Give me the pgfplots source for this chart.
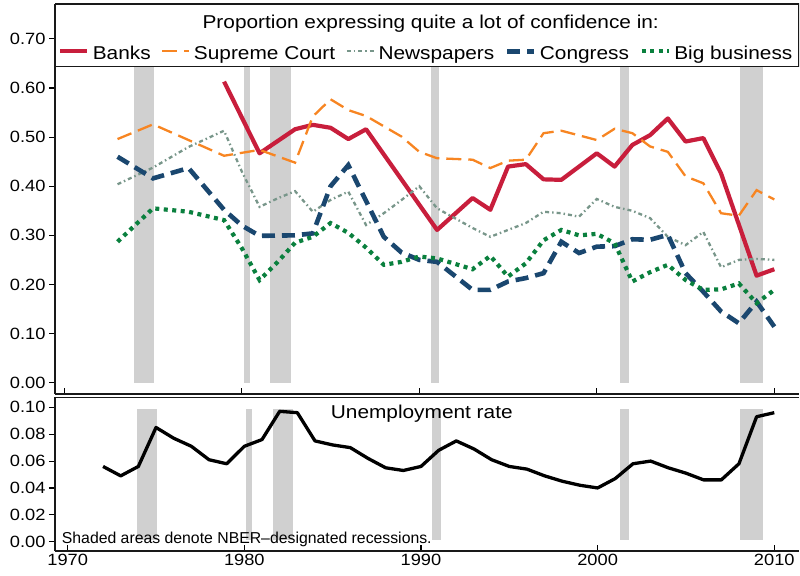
\documentclass[border=0pt]{standalone}
\usepackage{pgfplots}
\pgfplotsset{compat=1.18}
\usepackage{pgfplotstable}
\usepackage{fontspec}
\setmainfont{Liberation Sans}[FakeStretch=1.12]
\newfontfamily\notefont{Liberation Sans}
\definecolor{banks}{RGB}{200,30,60}
\definecolor{court}{RGB}{247,133,34}
\definecolor{news}{RGB}{120,150,138}
\definecolor{congress}{RGB}{26,71,111}
\definecolor{bigbiz}{RGB}{10,128,62}
\definecolor{recgray}{RGB}{208,208,208}
\newcommand{\tickfont}{\fontsize{16.3bp}{18bp}\selectfont}
\newcommand{\legfont}{\fontsize{18.6bp}{21bp}\selectfont}
\newcommand{\notesize}{\fontsize{15.8bp}{18bp}\selectfont}

\pgfplotstableread{
year val
1979 0.613
1981 0.467
1983 0.516
1984 0.525
1985 0.519
1986 0.496
1987 0.516
1991 0.311
1993 0.376
1994 0.352
1995 0.440
1996 0.445
1997 0.414
1998 0.413
2000 0.467
2001 0.440
2002 0.484
2003 0.504
2004 0.538
2005 0.491
2006 0.498
2007 0.426
2009 0.218
2010 0.231
}\banks

\pgfplotstableread{
year val
1973 0.496
1975 0.526
1977 0.494
1979 0.462
1980 0.468
1981 0.474
1983 0.448
1984 0.542
1985 0.577
1986 0.555
1987 0.543
1988 0.522
1989 0.501
1990 0.470
1991 0.457
1993 0.454
1994 0.437
1995 0.452
1996 0.454
1997 0.508
1998 0.513
2000 0.494
2001 0.517
2002 0.508
2003 0.481
2004 0.470
2005 0.420
2006 0.406
2007 0.345
2008 0.340
2009 0.392
2010 0.373
}\court

\pgfplotstableread{
year val
1973 0.404
1975 0.438
1977 0.480
1979 0.513
1980 0.430
1981 0.358
1982 0.375
1983 0.390
1984 0.348
1985 0.372
1986 0.389
1987 0.321
1988 0.345
1989 0.372
1990 0.400
1991 0.355
1993 0.315
1994 0.297
1995 0.311
1996 0.325
1997 0.348
1998 0.345
1999 0.338
2000 0.374
2001 0.358
2002 0.350
2003 0.335
2004 0.297
2005 0.280
2006 0.307
2007 0.235
2008 0.250
2009 0.252
2010 0.250
}\news

\pgfplotstableread{
year val
1973 0.460
1975 0.416
1977 0.437
1979 0.352
1980 0.320
1981 0.299
1983 0.300
1984 0.304
1985 0.400
1986 0.443
1987 0.370
1988 0.297
1989 0.265
1990 0.250
1991 0.246
1993 0.189
1994 0.189
1995 0.206
1996 0.213
1997 0.223
1998 0.287
1999 0.264
2000 0.277
2001 0.278
2002 0.292
2003 0.291
2004 0.301
2005 0.223
2006 0.185
2007 0.145
2008 0.121
2009 0.165
2010 0.114
}\congress

\pgfplotstableread{
year val
1973 0.287
1975 0.355
1977 0.348
1979 0.331
1980 0.274
1981 0.209
1982 0.245
1983 0.285
1984 0.297
1985 0.325
1986 0.305
1987 0.275
1988 0.240
1989 0.246
1990 0.257
1991 0.253
1993 0.231
1994 0.258
1995 0.216
1996 0.243
1997 0.290
1998 0.311
1999 0.300
2000 0.303
2001 0.284
2002 0.206
2003 0.225
2004 0.240
2005 0.209
2006 0.189
2007 0.190
2008 0.202
2009 0.162
2010 0.189
}\bigbiz

\pgfplotstableread{
year val
1972 0.056
1973 0.049
1974 0.056
1975 0.085
1976 0.077
1977 0.071
1978 0.061
1979 0.058
1980 0.071
1981 0.076
1982 0.097
1983 0.096
1984 0.075
1985 0.072
1986 0.070
1987 0.062
1988 0.055
1989 0.053
1990 0.056
1991 0.068
1992 0.075
1993 0.069
1994 0.061
1995 0.056
1996 0.054
1997 0.049
1998 0.045
1999 0.042
2000 0.040
2001 0.047
2002 0.058
2003 0.060
2004 0.055
2005 0.051
2006 0.046
2007 0.046
2008 0.058
2009 0.093
2010 0.096
}\unemp

\pgfplotsset{
  rec/.style={fill=recgray, draw=none, forget plot},
}

\begin{document}
\begin{tikzpicture}
\useasboundingbox (0,0) rectangle (800bp,576bp);

% ---------------- top panel ----------------
\begin{axis}[
  at={(55bp,182bp)}, anchor=south west,
  scale only axis, width=744bp, height=390bp,
  xmin=1969.476, xmax=2011.39, ymin=-0.023, ymax=0.771,
  axis x line*=bottom, axis y line*=left,
  axis line style={line width=1.2bp, black!90},
  xtick={1970,1980,1990,2000,2010}, xticklabels={},
  ytick={0,0.1,0.2,0.3,0.4,0.5,0.6,0.7},
  yticklabels={0.00,0.10,0.20,0.30,0.40,0.50,0.60,0.70},
  tick label style={font=\tickfont, black},
  xtick align=inside, ytick align=outside,
  major tick length=6bp,
  tick style={line width=1.1bp, black},
  legend columns=5,
  legend style={at={(rel axis cs:0.5,0.8397)}, anchor=south, yshift=4bp,
    draw=none, fill=none, font=\legfont, inner sep=0pt,
    nodes={inner xsep=3.5bp, inner ysep=1bp},
    /tikz/every even column/.append style={column sep=7bp}},
  legend cell align=left,
  legend image code/.code={\draw[#1] (0bp,2.5bp) -- (27bp,2.5bp);},
]
\addplot[rec] coordinates {(1973.94,0) (1973.94,0.643) (1975.08,0.643) (1975.08,0)} -- cycle;
\addplot[rec] coordinates {(1980.12,0) (1980.12,0.643) (1980.44,0.643) (1980.44,0)} -- cycle;
\addplot[rec] coordinates {(1981.60,0) (1981.60,0.643) (1982.77,0.643) (1982.77,0)} -- cycle;
\addplot[rec] coordinates {(1990.63,0) (1990.63,0.643) (1991.12,0.643) (1991.12,0)} -- cycle;
\addplot[rec] coordinates {(2001.29,0) (2001.29,0.643) (2001.80,0.643) (2001.80,0)} -- cycle;
\addplot[rec] coordinates {(2008.06,0) (2008.06,0.643) (2009.37,0.643) (2009.37,0)} -- cycle;

\addplot[banks, line width=4.2bp, line join=round] table[x=year,y=val]{\banks};
\addlegendentry{Banks}
\addplot[court, line width=2.3bp, dash pattern=on 15bp off 7bp] table[x=year,y=val]{\court};
\addlegendentry{Supreme Court}
\addplot[news, line width=2.3bp, dash pattern=on 4bp off 3bp on 1.5bp off 3bp] table[x=year,y=val]{\news};
\addlegendentry{Newspapers}
\addplot[congress, line width=4.6bp, dash pattern=on 13bp off 7bp] table[x=year,y=val]{\congress};
\addlegendentry{Congress}
\addplot[bigbiz, line width=4.2bp, dash pattern=on 4bp off 4.5bp] table[x=year,y=val]{\bigbiz};
\addlegendentry{Big business}

\draw[line width=1.2bp, black!90] (rel axis cs:0,1) rectangle (rel axis cs:1,0.8397);
\node[font=\legfont, anchor=base] at (rel axis cs:0.505,0.938) {Proportion expressing quite a lot of confidence in:};
\end{axis}

% ---------------- bottom panel ----------------
\begin{axis}[
  at={(55bp,25bp)}, anchor=south west,
  scale only axis, width=744bp, height=153.5bp,
  xmin=1969.281, xmax=2011.40, ymin=-0.0069, ymax=0.1073,
  axis x line*=bottom, axis y line*=left,
  axis line style={line width=1.2bp, black!90},
  xtick={1970,1980,1990,2000,2010},
  xticklabels={1970,1980,1990,2000,2010},
  ytick={0,0.02,0.04,0.06,0.08,0.1},
  yticklabels={0.00,0.02,0.04,0.06,0.08,0.10},
  tick label style={font=\tickfont, black},
  xtick align=inside, ytick align=outside,
  major tick length=6bp,
  tick style={line width=1.1bp, black},
]
\addplot[rec] coordinates {(1973.94,0.0015) (1973.94,0.0985) (1975.08,0.0985) (1975.08,0.0015)} -- cycle;
\addplot[rec] coordinates {(1980.12,0.0015) (1980.12,0.0985) (1980.44,0.0985) (1980.44,0.0015)} -- cycle;
\addplot[rec] coordinates {(1981.60,0.0015) (1981.60,0.0985) (1982.77,0.0985) (1982.77,0.0015)} -- cycle;
\addplot[rec] coordinates {(1990.63,0.0015) (1990.63,0.0985) (1991.12,0.0985) (1991.12,0.0015)} -- cycle;
\addplot[rec] coordinates {(2001.29,0.0015) (2001.29,0.0985) (2001.80,0.0985) (2001.80,0.0015)} -- cycle;
\addplot[rec] coordinates {(2008.06,0.0015) (2008.06,0.0985) (2009.37,0.0985) (2009.37,0.0015)} -- cycle;

\addplot[black, line width=3.3bp, line join=round] table[x=year,y=val]{\unemp};

\draw[line width=1.2bp, black!90] (rel axis cs:0,1) -- (rel axis cs:1,1);
\node[font=\legfont, anchor=base] at (rel axis cs:0.493,0.8645) {Unemployment rate};
\node[font=\notefont\notesize, anchor=base west, inner sep=0pt] at (rel axis cs:0.009,0.050) {Shaded areas denote NBER\textendash designated recessions.};
\end{axis}
\end{tikzpicture}
\end{document}
